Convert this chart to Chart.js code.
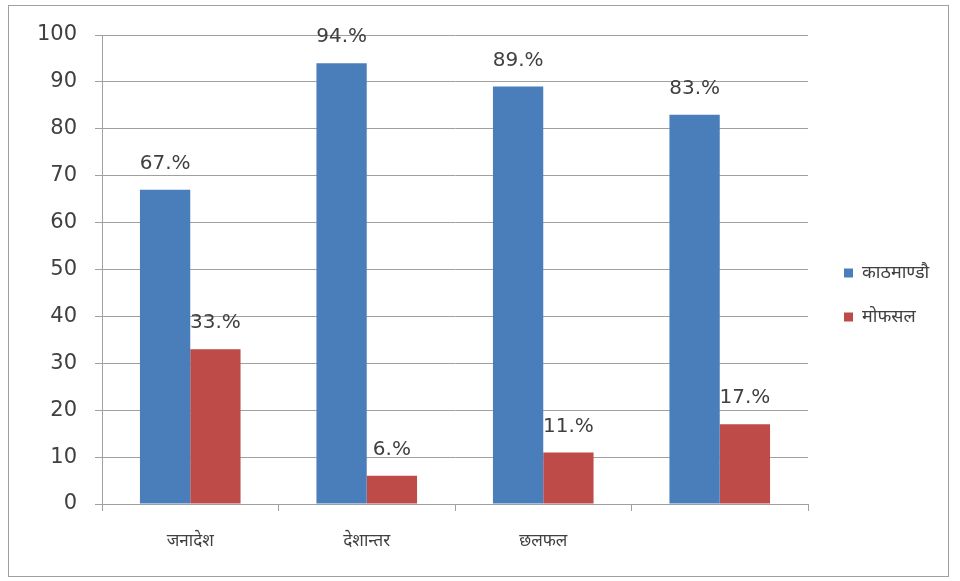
<!DOCTYPE html>
<html>
<head>
<meta charset="utf-8">
<script src="https://cdn.jsdelivr.net/npm/chart.js@4.4.0/dist/chart.umd.min.js"></script>
<style>
html,body{margin:0;padding:0;background:#fff;}
#wrap{position:relative;width:960px;height:581px;}
#frame{position:absolute;left:8px;top:5px;width:941px;height:572px;border:1px solid #a0a0a0;box-sizing:border-box;}
canvas{position:absolute;left:0;top:0;}
</style>
</head>
<body>
<div id="wrap"><div id="frame"></div><canvas id="c" width="960" height="581"></canvas></div>
<script>
const categories = ["जनादेश", "देशान्तर", "छलफल", ""];
const seriesNames = ["काठमाण्डौ", "मोफसल"];
const kathmandu = [67, 94, 89, 83];
const mofasal = [33, 6, 11, 17];
const yTicks = [0, 10, 20, 30, 40, 50, 60, 70, 80, 90, 100];

const labelPlugin = {
  id: 'barLabels',
  afterDatasetsDraw(chart) {
    const ctx = chart.ctx;
    ctx.save();
    ctx.font = '20px "DejaVu Sans", sans-serif';
    ctx.fillStyle = '#404040';
    ctx.textAlign = 'center';
    ctx.textBaseline = 'middle';
    chart.data.datasets.forEach((ds, i) => {
      const meta = chart.getDatasetMeta(i);
      meta.data.forEach((bar, j) => {
        ctx.fillText(ds.data[j] + '.%', bar.x, bar.y - 26);
      });
    });
    ctx.restore();
  }
};

const legendFix = {
  id: 'legendFix',
  beforeLayout(chart) {
    const lg = chart.legend;
    if (lg && !lg._fx) {
      const f = lg.fit;
      lg.fit = function () { f.call(this); this.width = 142; };
      lg._fx = true;
    }
  },
  afterLayout(chart) {
    const lg = chart.legend;
    if (lg) { lg.left += 10; lg.right += 10; lg.top -= 13; lg.bottom -= 13; }
  }
};

new Chart(document.getElementById('c'), {
  type: 'bar',
  data: {
    labels: categories,
    datasets: [
      { label: seriesNames[0], data: kathmandu, backgroundColor: '#4a7ebb', categoryPercentage: 0.57, barPercentage: 1.0 },
      { label: seriesNames[1], data: mofasal, backgroundColor: '#be4b48', categoryPercentage: 0.57, barPercentage: 1.0 }
    ]
  },
  options: {
    responsive: false,
    animation: false,
    devicePixelRatio: 1,
    layout: { padding: { top: 35, bottom: 0, left: 0, right: 10 } },
    plugins: {
      legend: {
        position: 'right',
        labels: {
          boxWidth: 9, boxHeight: 9, padding: 26,
          color: '#404040',
          font: { size: 18, family: '"Noto Sans", sans-serif' }
        }
      },
      tooltip: { enabled: false }
    },
    scales: {
      x: {
        grid: { offset: true, drawOnChartArea: false, drawTicks: true, tickLength: 7, color: '#a0a0a0' },
        border: { color: '#a0a0a0' },
        ticks: { color: '#404040', padding: 20, font: { size: 17, family: '"Noto Serif", "Noto Sans", serif' } },
        afterFit(s) { s.height = 77; }
      },
      y: {
        min: 0, max: 100,
        afterBuildTicks(s) { s.ticks = yTicks.map(v => ({ value: v })); },
        grid: { color: '#a0a0a0', tickLength: 7 },
        border: { color: '#a0a0a0' },
        ticks: { color: '#404040', padding: 18, font: { size: 21, family: '"DejaVu Sans", sans-serif' } },
        afterFit(s) { s.width = 102; }
      }
    }
  },
  plugins: [labelPlugin, legendFix]
});
</script>
</body>
</html>
